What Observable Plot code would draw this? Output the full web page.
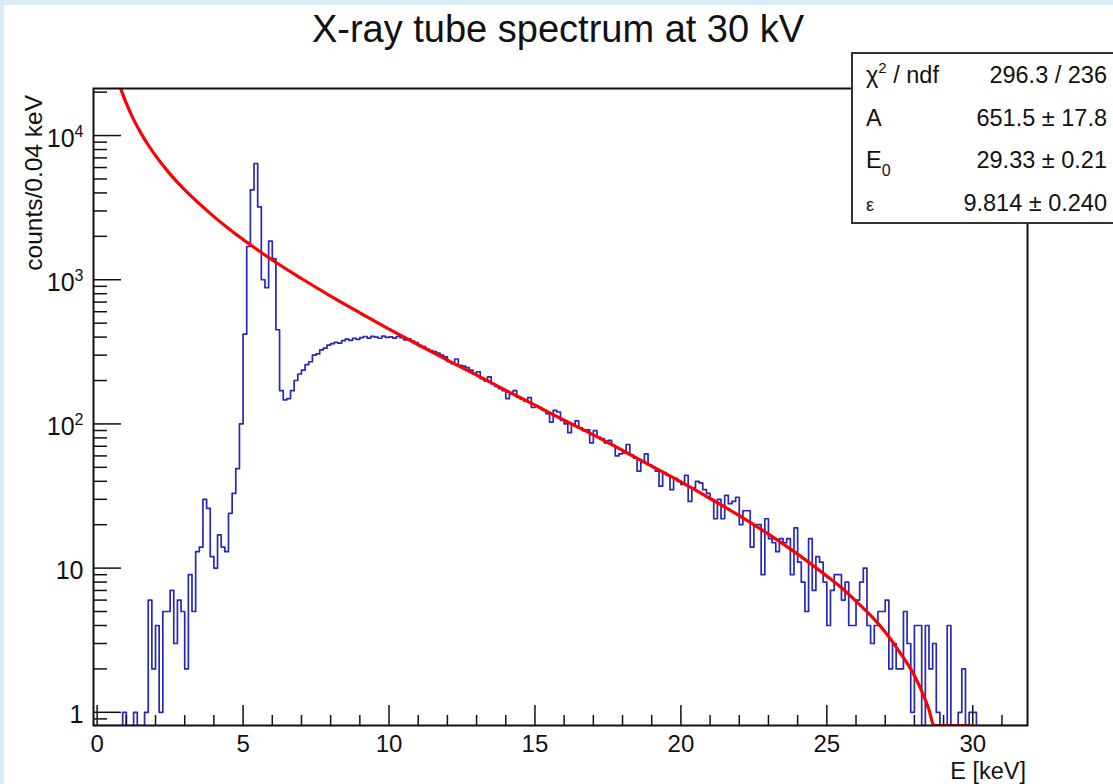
<!DOCTYPE html>
<html>
<head>
<meta charset="utf-8">
<script src="https://cdn.jsdelivr.net/npm/d3@7"></script>
<script src="https://cdn.jsdelivr.net/npm/@observablehq/plot@0.6"></script>
<style>
  html, body { margin: 0; padding: 0; width: 1113px; height: 784px; overflow: hidden; background: #d6edf8; }
  #page { position: absolute; left: 4px; top: 5px; right: 0; bottom: 0; background: #ffffff; }
  #chart { position: absolute; left: 0; top: 0; }
  #overlay { position: absolute; left: 0; top: 0; }
</style>
</head>
<body>
<div id="page"></div>
<div id="chart"></div>
<div id="overlay"></div>
<script>
const FONT = '"Liberation Sans", Arial, Helvetica, sans-serif';

// ---- histogram: counts per bin, bins of 0.125 keV starting at -0.125 keV ----
const binStart = -0.125;
const binWidth = 0.125;
const counts = [
  0,
  0,0,0,0,0,0,0,1,                 // 0 keV
  0,0,1,0,0,1,6,2,                 // 1
  4,1,5,5,7,3,6,5,                 // 2
  2,9,5,13,14,30,26,12,            // 3
  10,17,14,13,24,33,49,100,        // 4
  420,1700,4200,6400,3200,1000,880,1850, // 5
  1400,450,170,147,150,170,200,222,      // 6
  236,258,270,300,306,326,336,352,       // 7
  360,368,363,378,388,380,392,386,       // 8
  397,404,394,405,400,393,406,398,       // 9
  401,394,404,397,383,389,376,367,       // 10
  350,344,330,322,318,310,300,292,       // 11
  270,262,282,255,252,246,236,224,       // 12
  230,206,199,212,190,182,176,170,       // 13
  150,162,170,153,149,144,152,130,       // 14
  133,130,124,118,103,124,121,106,       // 15
  100,87,99,105,94,90,91,74,             // 16
  90,81,79,74,77,71,60,62,               // 17
  63,72,61,58,47,54,62,52,               // 18
  50,47,37,46,44,35,42,40,               // 19
  38,44,29,36,40,39,35,33,               // 20
  30,22,30,22,32,28,29,31,               // 21
  20,25,25,14,20,20,9,22,                // 22
  16,15,13,16,15,16,9,19,                // 23
  11,8,5,16,7,12,11,8,                   // 24
  4,7,9,9,6,8,4,4,                       // 25
  6,8,10,4,3,4,5,5,                      // 26
  6,2,3,2,2,5,3,1,                       // 27
  4,4,0,4,2,3,1,0,                       // 28
  0,4,0,0,1,2,0,1,                       // 29
  1,0,0,0,0,0,0,0,                       // 30
  0,0,0,0,0,0,0                          // 31
];

// ---- fitted function (red curve) ----
const fitE = [0.7,0.85,1.0,1.25,1.5,1.75,2,2.5,3,3.5,4,4.5,5,5.5,6,7,8,9,10,11,12,13,14,15,16,17,18,19,20,21,22,23,24,25,25.5,26,26.5,27,27.5,28,28.25,28.5,28.67,29.9];
const fitV = [24800,20000,16700,12900,10400,8600,7250,5400,4200,3370,2740,2270,1900,1610,1370,1020,770,590,455,354,277,218,171,135,106,84,65.5,51,39.6,30.4,23.1,17.2,12.5,8.8,7.3,5.9,4.7,3.6,2.6,1.8,1.4,1.04,0.81,0.81];

// ---- axes ----
const xDomain = [-0.125, 31.875];
const yMin = 0.81, yMax = 21200;
const xMajor = [0,5,10,15,20,25,30];
const xMinor = [1,2,3,4,6,7,8,9,11,12,13,14,16,17,18,19,21,22,23,24,26,27,28,29,31];
const yMajor = [1,10,100,1000,10000];
const yMajorLabels = ["1","10","10^2","10^3","10^4"];
const yMinor = [0.9,2,3,4,5,6,7,8,9,20,30,40,50,60,70,80,90,200,300,400,500,600,700,800,900,2000,3000,4000,5000,6000,7000,8000,9000,20000];

// ---- texts ----
const titleText = "X-ray tube spectrum at 30 kV";
const xTitle = "E [keV]";
const yTitle = "counts/0.04 keV";
const statValues = ["296.3 / 236", "651.5 \u00b1 17.8", "29.33 \u00b1 0.21", "9.814 \u00b1 0.240"];

const hist = counts.map((c, i) => ({E: binStart + i * binWidth, v: c > 0 ? c : yMin}));
hist.push({E: binStart + counts.length * binWidth, v: hist[hist.length - 1].v});
const fit = fitE.map((e, i) => ({E: e, v: fitV[i]}));

const AX = "#111111";
const plot = Plot.plot({
  width: 1113,
  height: 784,
  marginLeft: 93,
  marginRight: 86,
  marginTop: 88,
  marginBottom: 59,
  style: {background: "transparent", fontFamily: FONT, fontSize: "24px", color: AX, overflow: "visible"},
  x: {domain: xDomain, label: null},
  y: {type: "log", domain: [yMin, yMax], label: null},
  marks: [
    Plot.line(hist, {x: "E", y: "v", curve: "step-after", stroke: "#2727b8", strokeWidth: 1.7, clip: true}),
    Plot.line(fit, {x: "E", y: "v", curve: "monotone-x", stroke: "#ff0000", strokeWidth: 3.2, clip: true}),
    Plot.axisX(xMajor, {tickSize: -20, tickFormat: () => "", strokeWidth: 1.5}),
    Plot.axisX(xMinor, {tickSize: -10, tickFormat: () => "", strokeWidth: 1.5}),
    Plot.axisX(xMajor, {tickSize: 0, tickPadding: 9, fontSize: 24}),
    Plot.axisY(yMajor, {tickSize: -28, tickFormat: () => "", strokeWidth: 1.5}),
    Plot.axisY(yMinor, {tickSize: -14, tickFormat: () => "", strokeWidth: 1.5}),
    Plot.axisY(yMajor, {tickSize: 0, tickPadding: 10, dy: 3, fontSize: 25, tickFormat: d => yMajorLabels[yMajor.indexOf(d)]}),
    Plot.frame({stroke: AX, strokeWidth: 2})
  ]
});
document.getElementById("chart").appendChild(plot);

// superscripts for 10^n labels
d3.select(plot).selectAll("text").each(function() {
  const t = this.textContent;
  if (t.includes("^")) {
    const [base, exp] = t.split("^");
    const el = d3.select(this);
    el.text("");
    el.append("tspan").text(base);
    el.append("tspan").attr("dy", "-10").attr("font-size", "16").text(exp);
  }
});

// ---- overlay: title, axis titles, stats box ----
const ov = d3.select("#overlay").append("svg")
  .attr("width", 1113).attr("height", 784)
  .style("font-family", FONT).style("fill", "#111");

ov.append("text").attr("x", 558).attr("y", 41.5).attr("text-anchor", "middle")
  .attr("font-size", 38).text(titleText);

ov.append("text").attr("transform", "translate(42,95) rotate(-90)").attr("text-anchor", "end")
  .attr("font-size", 24.5).text(yTitle);

ov.append("text").attr("x", 1026).attr("y", 779).attr("text-anchor", "end")
  .attr("font-size", 23.5).text(xTitle);

ov.append("rect").attr("x", 852).attr("y", 53).attr("width", 300).attr("height", 170)
  .attr("fill", "#fff").attr("stroke", "#333").attr("stroke-width", 2);

const rowBase = [83, 126, 168, 211];
const lx = 866, rx = 1107;
const SF = 23.5;
{
  const t = ov.append("text").attr("x", lx).attr("y", rowBase[0]).attr("font-size", SF);
  t.append("tspan").text("\u03c7");
  t.append("tspan").attr("dy", -10).attr("font-size", 15).text("2");
  t.append("tspan").attr("dy", 10).text(" / ndf");
}
ov.append("text").attr("x", lx).attr("y", rowBase[1]).attr("font-size", SF).text("A");
{
  const t = ov.append("text").attr("x", lx).attr("y", rowBase[2]).attr("font-size", SF);
  t.append("tspan").text("E");
  t.append("tspan").attr("dy", 8).attr("font-size", 16).text("0");
}
ov.append("text").attr("x", lx).attr("y", rowBase[3]).attr("font-size", 18).text("\u03b5");
statValues.forEach((v, i) => {
  ov.append("text").attr("x", rx).attr("y", rowBase[i]).attr("text-anchor", "end")
    .attr("font-size", SF).text(v);
});
</script>
</body>
</html>
